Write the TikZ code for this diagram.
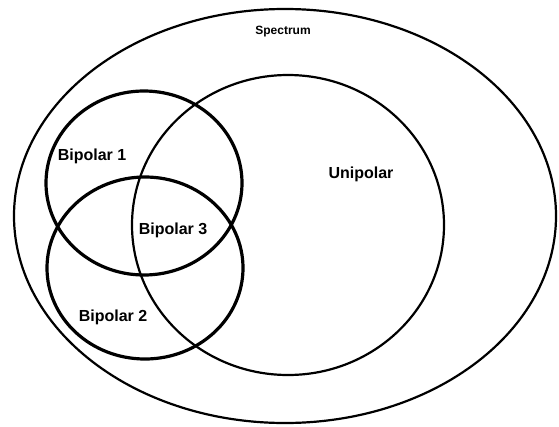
\documentclass[tikz,border=0pt]{standalone}
\usepackage{fontspec}
\setsansfont{Liberation Sans}
\usetikzlibrary{shapes.geometric}

\begin{document}
\begin{tikzpicture}[x=1pt, y=-1pt, every node/.style={font=\sffamily\bfseries\fontsize{16}{18}\selectfont},
  set/.style={draw, ellipse, inner sep=0pt, outer sep=0pt}]
  \useasboundingbox (0,0) rectangle (559,426);
  % outer set and the unipolar set
  \node[set, line width=2.2pt, minimum width=542pt, minimum height=414pt] (spectrum) at (285,216) {};
  \node[set, line width=2.2pt, minimum width=312pt, minimum height=300pt] (unipolar) at (288,225) {};
  % the two bipolar sets
  \node[set, line width=3.2pt, minimum width=196pt, minimum height=184pt] (bipolarA) at (144,183) {};
  \node[set, line width=3.2pt, minimum width=196pt, minimum height=182pt] (bipolarB) at (145,268) {};
  % labels
  \node[font=\sffamily\bfseries\fontsize{12}{14}\selectfont] (spectrumlabel) at (283,32) {Spectrum};
  \node (unipolarlabel) at (361,174) {Unipolar};
  \node (bipolarAlabel) at (92,156) {Bipolar 1};
  \node (bipolarBlabel) at (113,317) {Bipolar 2};
  \node (bipolarClabel) at (173,230) {Bipolar 3};
\end{tikzpicture}
\end{document}
